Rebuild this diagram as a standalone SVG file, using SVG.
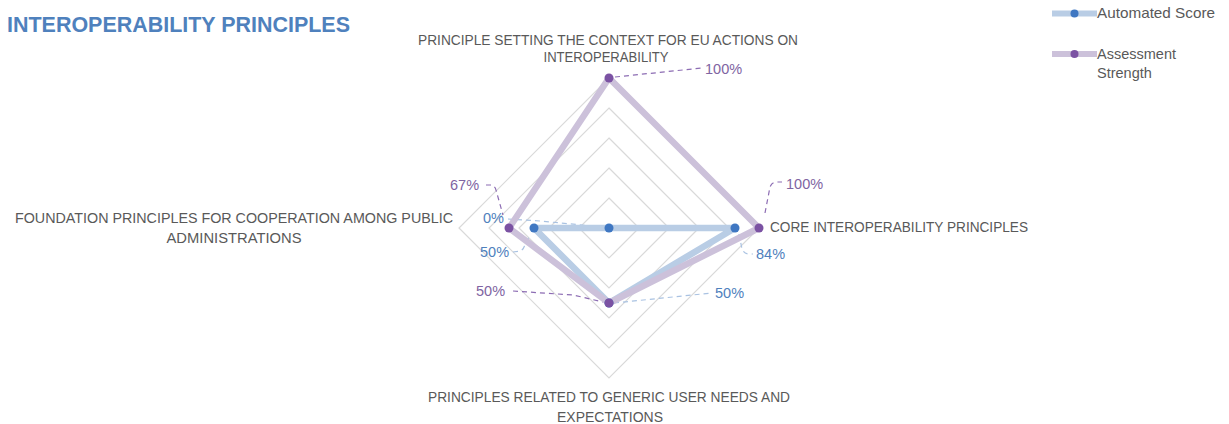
<svg xmlns="http://www.w3.org/2000/svg" width="1229" height="424" viewBox="0 0 1229 424">
<style>
.axis{font-family:"Liberation Sans",Arial,sans-serif;font-size:14px;fill:#595959}
.lblp{font-family:"Liberation Sans",Arial,sans-serif;font-size:14.5px;fill:#8064a2}
.lblb{font-family:"Liberation Sans",Arial,sans-serif;font-size:14.5px;fill:#4f81bd}
.leg{font-family:"Liberation Sans",Arial,sans-serif;font-size:14.5px;fill:#595959}
.grid{fill:none;stroke:#d9d9d9;stroke-width:1.2}
.serB{fill:none;stroke:#b9cde5;stroke-width:6.5;stroke-linejoin:round}
.serP{fill:none;stroke:#ccc1da;stroke-width:6.5;stroke-linejoin:round}
.dotB{fill:#3f77c2}
.dotP{fill:#7b52a3}
.ldP{fill:none;stroke:#8c6cb3;stroke-width:1.2;stroke-dasharray:5 4}
.ldB{fill:none;stroke:#a9c2e2;stroke-width:1.2;stroke-dasharray:5 4}
</style>
<rect width="1229" height="424" fill="#ffffff"/>
<text x="7" y="32" font-family="Liberation Sans,Arial,sans-serif" font-weight="bold" font-size="21.4" fill="#4f81bd" textLength="343" lengthAdjust="spacingAndGlyphs">INTEROPERABILITY PRINCIPLES</text>

<g id="grid">
<polygon class="grid" points="609,198 639,228 609,258 579,228"/>
<polygon class="grid" points="609,168 669,228 609,288 549,228"/>
<polygon class="grid" points="609,138 699,228 609,318 519,228"/>
<polygon class="grid" points="609,108 729,228 609,348 489,228"/>
<polygon class="grid" points="609,78 759,228 609,378 459,228"/>
</g>

<g id="axis-labels">
<g id="axis-top">
<text class="axis" x="608" y="45" text-anchor="middle" textLength="380" lengthAdjust="spacingAndGlyphs">PRINCIPLE SETTING THE CONTEXT FOR EU ACTIONS ON</text>
<text class="axis" x="606" y="62" text-anchor="middle" textLength="125" lengthAdjust="spacingAndGlyphs">INTEROPERABILITY</text>
</g>
<g id="axis-right">
<text class="axis" x="770" y="232" textLength="258" lengthAdjust="spacingAndGlyphs">CORE INTEROPERABILITY PRINCIPLES</text>
</g>
<g id="axis-bottom">
<text class="axis" x="609" y="401.5" text-anchor="middle" textLength="362" lengthAdjust="spacingAndGlyphs">PRINCIPLES RELATED TO GENERIC USER NEEDS AND</text>
<text class="axis" x="610" y="421.5" text-anchor="middle" textLength="106" lengthAdjust="spacingAndGlyphs">EXPECTATIONS</text>
</g>
<g id="axis-left">
<text class="axis" x="234" y="222.5" text-anchor="middle" textLength="438" lengthAdjust="spacingAndGlyphs">FOUNDATION PRINCIPLES FOR COOPERATION AMONG PUBLIC</text>
<text class="axis" x="234" y="243" text-anchor="middle" textLength="135" lengthAdjust="spacingAndGlyphs">ADMINISTRATIONS</text>
</g>
</g>

<g id="connectors">
<path class="ldP" d="M615 77 L702 68"/>
<path class="ldP" d="M765 213 L770 187 Q772 182 777 182 L782 182"/>
<path class="ldP" d="M486 185 L491 185 Q495 186 496 190 L503 215"/>
<path class="ldP" d="M513 291 L573 295 L603 302"/>
<path class="ldB" d="M739 234 L742 249 Q744 254 749 254 L753 254"/>
<path class="ldB" d="M614 303 L712 293"/>
<path class="ldB" d="M508 219 L540 221 L603 227"/>
<path class="ldB" d="M513 252 L520 251 Q523 250 524 247 L530 235"/>
</g>

<g id="series-automated-score">
<polygon class="serB" points="609,228 735,228 609,303 534,228"/>
</g>
<g id="series-assessment-strength">
<polygon class="serP" points="609,78 759,228 609,303 509,228"/>
</g>

<g id="points-automated-score">
<circle class="dotB" cx="609" cy="228" r="4.5"/>
<circle class="dotB" cx="735" cy="228" r="4.5"/>
<circle class="dotB" cx="609" cy="303" r="4.5"/>
<circle class="dotB" cx="534" cy="228" r="4.5"/>
</g>
<g id="points-assessment-strength">
<circle class="dotP" cx="609" cy="78" r="4.5"/>
<circle class="dotP" cx="759" cy="228" r="4.5"/>
<circle class="dotP" cx="609" cy="303" r="4.5"/>
<circle class="dotP" cx="509" cy="228" r="4.5"/>
</g>

<g id="data-labels">
<text class="lblp" x="705" y="74">100%</text>
<text class="lblp" x="786" y="189">100%</text>
<text class="lblp" x="450" y="190">67%</text>
<text class="lblp" x="476" y="296">50%</text>
<text class="lblb" x="756" y="259">84%</text>
<text class="lblb" x="715" y="298">50%</text>
<text class="lblb" x="483" y="223">0%</text>
<text class="lblb" x="480" y="257">50%</text>
</g>

<g id="legend">
<g id="legend-automated">
<line x1="1052" y1="13.5" x2="1097" y2="13.5" stroke="#b9cde5" stroke-width="6"/>
<circle class="dotB" cx="1074.5" cy="13.5" r="4"/>
<text class="leg" x="1097" y="17.5" textLength="118" lengthAdjust="spacingAndGlyphs">Automated Score</text>
</g>
<g id="legend-assessment">
<line x1="1052" y1="54" x2="1097" y2="54" stroke="#ccc1da" stroke-width="6"/>
<circle class="dotP" cx="1074.5" cy="54" r="4"/>
<text class="leg" x="1097" y="59">Assessment</text>
<text class="leg" x="1097" y="78">Strength</text>
</g>
</g>
</svg>
